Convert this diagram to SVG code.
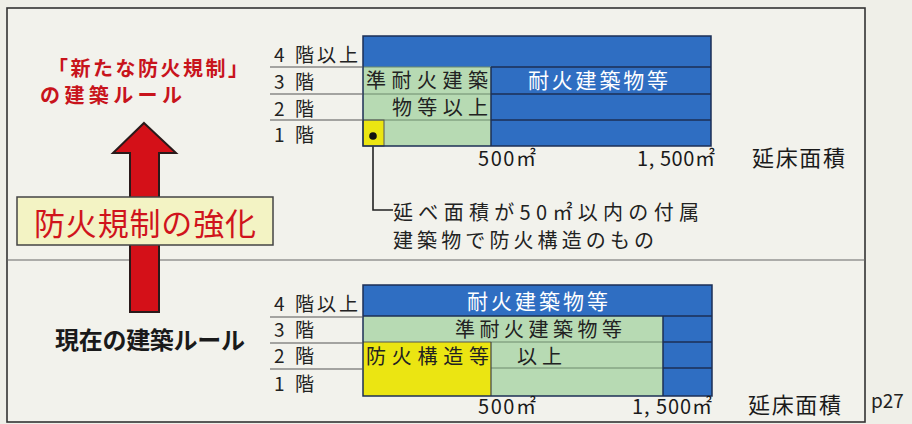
<svg xmlns="http://www.w3.org/2000/svg" width="912" height="424" viewBox="0 0 912 424">
<style>
  text { font-family: "Noto Sans CJK JP", "Noto Sans", sans-serif; }
  .fl { font-size: 19px; fill: #222; }
  .lbl { font-size: 20px; fill: #222; }
  .wt { font-size: 21px; fill: #fff; }
  .ax { font-size: 20px; fill: #1a1a1a; }
  .blue { fill: #2f6ec2; }
  .green { fill: #b7dab3; }
  .yellow { fill: #ebe512; }
  .ln { stroke: #555; stroke-width: 1.2; fill: none; }
  .dk { stroke: #1d2f55; stroke-width: 1.5; fill: none; }
  .gl { stroke: #6d8a6c; stroke-width: 1; fill: none; }
</style>
<rect x="0" y="0" width="912" height="424" fill="#efefe8"/>
<rect x="7" y="8" width="858" height="414" fill="#f2f2ec" stroke="#333" stroke-width="1.6"/>
<line x1="7" y1="260" x2="865" y2="260" stroke="#666" stroke-width="1.2"/>

<g id="title-new">
  <text x="48" y="76" font-size="20" font-weight="bold" fill="#c8141c" textLength="200">「新たな防火規制」</text>
  <text x="40" y="103" font-size="20" font-weight="bold" fill="#c8141c" textLength="142">の建築ルール</text>
</g>

<g id="connectors">
  <path d="M144,123 L176,153 L159,153 L159,312 L130,312 L130,153 L113,153 Z" fill="#d41018" stroke="#2a1a1a" stroke-width="2" stroke-linejoin="miter"/>
  <polyline points="373,136 373,210 393,210" fill="none" stroke="#222" stroke-width="1.6"/>
</g>

<g id="box-kyouka">
  <rect x="17" y="197" width="256" height="48" fill="#f3f3c4" stroke="#444" stroke-width="1.5"/>
  <text x="34" y="235" font-size="31" fill="#d0141c" textLength="222">防火規制の強化</text>
</g>

<g id="title-current">
  <text x="55" y="349" font-size="24" font-weight="bold" fill="#1a1a1a" textLength="190">現在の建築ルール</text>
</g>

<g id="chart-new">
  <rect class="blue" x="363" y="36" width="348" height="110"/>
  <rect class="green" x="363" y="67" width="128" height="79"/>
  <rect class="yellow" x="363" y="120" width="21" height="26"/>
  <line class="dk" x1="491" y1="67" x2="711" y2="67"/>
  <line class="dk" x1="491" y1="94" x2="711" y2="94"/>
  <line class="dk" x1="491" y1="120" x2="711" y2="120"/>
  <line class="gl" x1="363" y1="67" x2="491" y2="67"/>
  <line class="gl" x1="363" y1="94" x2="491" y2="94"/>
  <line class="gl" x1="363" y1="120" x2="491" y2="120"/>
  <line class="dk" x1="491" y1="67" x2="491" y2="146"/>
  <rect x="363" y="120" width="21" height="26" fill="none" stroke="#555" stroke-width="1"/>
  <rect x="363" y="36" width="348" height="110" fill="none" stroke="#1d2f55" stroke-width="1.5"/>
  <circle cx="373" cy="136" r="3.8" fill="#111"/>
  <line class="ln" x1="270" y1="67" x2="363" y2="67"/>
  <line class="ln" x1="270" y1="94" x2="363" y2="94"/>
  <line class="ln" x1="270" y1="120" x2="363" y2="120"/>
  <text class="fl" x="274" y="62" textLength="84">4 階以上</text>
  <text class="fl" x="274" y="89" textLength="40">3 階</text>
  <text class="fl" x="274" y="116" textLength="40">2 階</text>
  <text class="fl" x="274" y="142" textLength="40">1 階</text>
  <text x="366" y="88" font-size="20" fill="#222" textLength="122">準耐火建築</text>
  <text x="392" y="115" font-size="20" fill="#222" textLength="96">物等以上</text>
  <text class="wt" x="528" y="88" textLength="140">耐火建築物等</text>
  <text class="ax" x="478" y="166" textLength="58">500㎡</text>
  <text class="ax" x="637" y="166" textLength="78">1, 500㎡</text>
  <text x="752" y="166" font-size="22" fill="#1a1a1a" textLength="93">延床面積</text>
</g>

<g id="note">
  <text x="393" y="220" font-size="20" fill="#222" textLength="306">延べ面積が50㎡以内の付属</text>
  <text x="393" y="248" font-size="20" fill="#222" textLength="261">建築物で防火構造のもの</text>
</g>

<g id="chart-current">
  <rect class="blue" x="363" y="285" width="349" height="111"/>
  <rect class="green" x="363" y="316" width="300" height="80"/>
  <rect class="yellow" x="363" y="342" width="128" height="54"/>
  <line class="dk" x1="363" y1="316" x2="712" y2="316"/>
  <line class="dk" x1="663" y1="342" x2="712" y2="342"/>
  <line class="dk" x1="663" y1="368" x2="712" y2="368"/>
  <line class="gl" x1="491" y1="342" x2="663" y2="342"/>
  <line class="gl" x1="491" y1="368" x2="663" y2="368"/>
  <line x1="363" y1="342" x2="491" y2="342" stroke="#555" stroke-width="1.2"/>
  <line x1="491" y1="342" x2="491" y2="396" stroke="#444" stroke-width="1.2"/>
  <line class="dk" x1="663" y1="316" x2="663" y2="396"/>
  <rect x="363" y="285" width="349" height="111" fill="none" stroke="#1d2f55" stroke-width="1.5"/>
  <line class="ln" x1="270" y1="317" x2="363" y2="317"/>
  <line class="ln" x1="270" y1="343" x2="363" y2="343"/>
  <line class="ln" x1="270" y1="369" x2="363" y2="369"/>
  <text class="fl" x="274" y="311" textLength="84">4 階以上</text>
  <text class="fl" x="274" y="337" textLength="40">3 階</text>
  <text class="fl" x="274" y="363" textLength="40">2 階</text>
  <text class="fl" x="274" y="391" textLength="40">1 階</text>
  <text class="wt" x="467" y="309" textLength="141">耐火建築物等</text>
  <text class="lbl" x="455" y="337" textLength="167">準耐火建築物等</text>
  <text class="lbl" x="366" y="364" textLength="123">防火構造等</text>
  <text class="lbl" x="517" y="364" textLength="45">以上</text>
  <text class="ax" x="478" y="414" textLength="58">500㎡</text>
  <text class="ax" x="632" y="414" textLength="80">1, 500㎡</text>
  <text x="748" y="413" font-size="22" fill="#1a1a1a" textLength="93">延床面積</text>
</g>

<g id="page-ref">
  <text x="871" y="408" font-size="19" fill="#222" font-family="Liberation Sans, sans-serif">p27</text>
</g>
</svg>
